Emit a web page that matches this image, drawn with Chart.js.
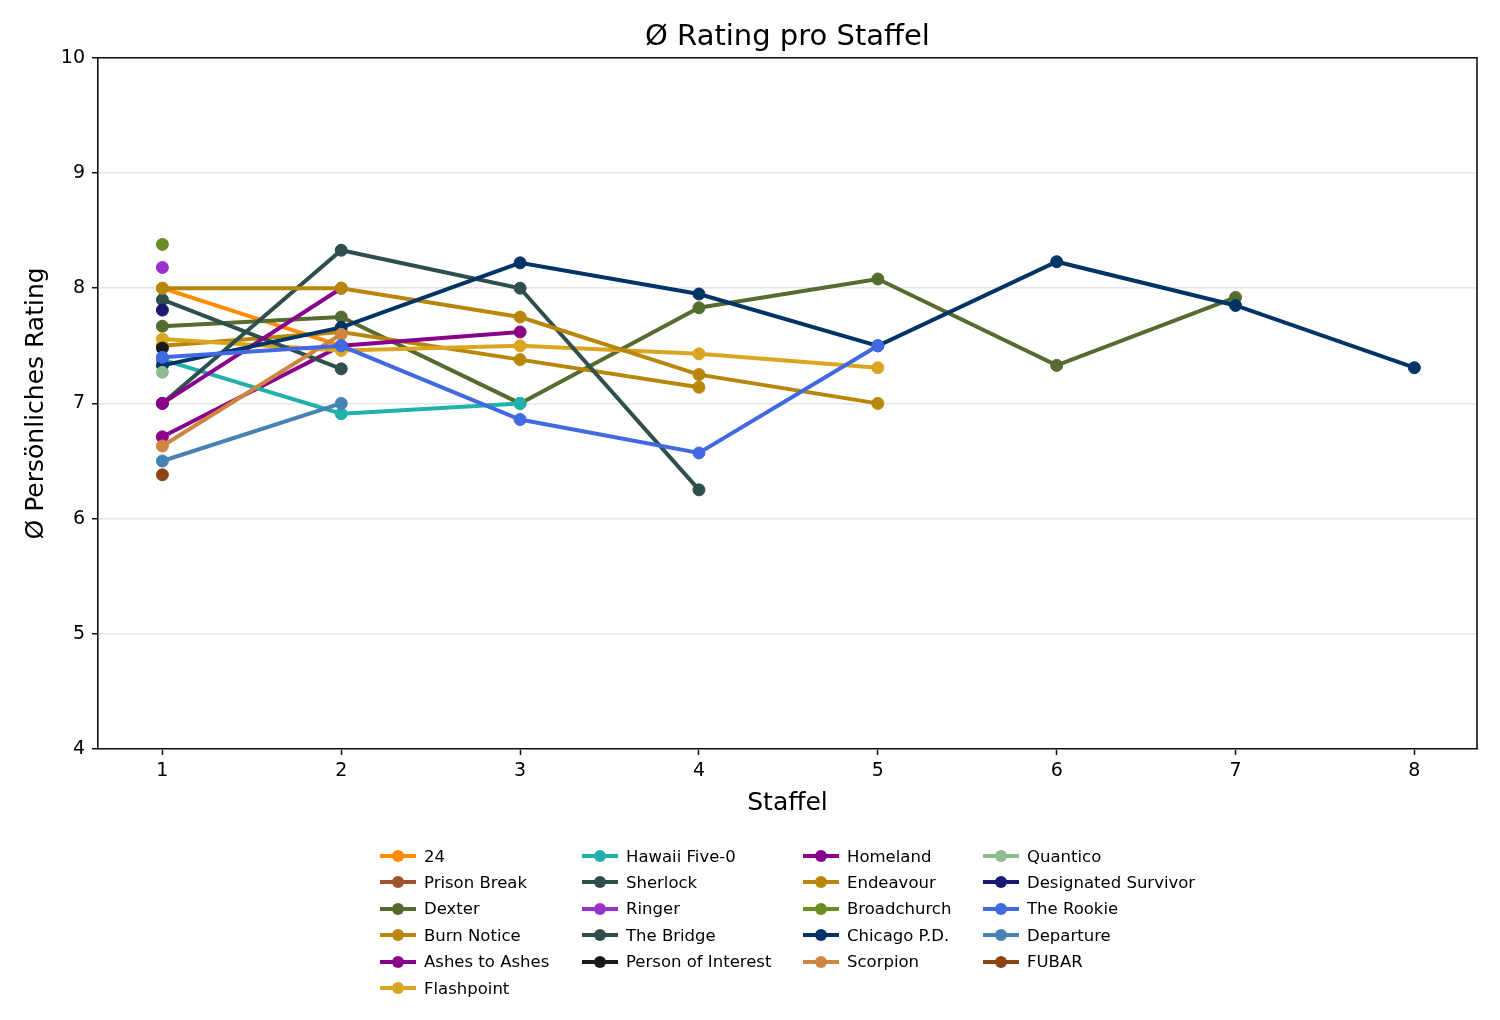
<!DOCTYPE html>
<html>
<head>
<meta charset="utf-8">
<script src="https://cdn.jsdelivr.net/npm/chart.js@4.4.1/dist/chart.umd.min.js"></script>
<style>
  body { margin: 0; background: #fff; }
  #wrap { position: relative; width: 1500px; height: 1020px; }
  #chart { position: absolute; left: 0; top: 0; }
  #legend {
    position: absolute; left: 0; top: 0; width: 1500px; height: 1020px;
    font-family: "DejaVu Sans", sans-serif; font-size: 16.5px; color: #000;
  }
  .item { position: absolute; display: flex; align-items: center; white-space: nowrap; height: 20px; }
  .handle { position: relative; flex: 0 0 36px; width: 36px; height: 14px; margin-right: 8px; }
  .handle .ln { position: absolute; left: 0; right: 0; top: 5px; height: 4px; }
  .handle .dot { position: absolute; left: 12px; top: 1px; width: 12px; height: 12px; border-radius: 50%; }
</style>
</head>
<body>
<div id="wrap">
  <canvas id="chart" width="1500" height="1020"></canvas>
  <div id="legend"></div>
</div>
<script>
// Staffeln
const staffeln = [1, 2, 3, 4, 5, 6, 7, 8];

// Serien (Ø Rating je Staffel)
const serien = ["24", "Prison Break", "Dexter", "Burn Notice", "Ashes to Ashes", "Flashpoint",
  "Hawaii Five-0", "Sherlock", "Ringer", "The Bridge", "Person of Interest",
  "Homeland", "Endeavour", "Broadchurch", "Chicago P.D.", "Scorpion",
  "Quantico", "Designated Survivor", "The Rookie", "Departure", "FUBAR"];

const r24 = [8.0, 7.5];
const rPrisonBreak = [];
const rDexter = [7.67, 7.75, 7.0, 7.83, 8.08, 7.33, 7.92];
const rBurnNotice = [7.5, 7.62, 7.38, 7.14];
const rAshes = [6.71, 7.5, 7.62];
const rFlashpoint = [7.56, 7.46, 7.5, 7.43, 7.31];
const rHawaii = [7.38, 6.91, 7.0];
const rSherlock = [7.0, 8.33, 8.0, 6.25];
const rRinger = [8.18];
const rBridge = [7.9, 7.3];
const rPOI = [7.48];
const rHomeland = [7.0, 8.0];
const rEndeavour = [8.0, 8.0, 7.75, 7.25, 7.0];
const rBroadchurch = [8.38];
const rChicago = [7.33, 7.66, 8.22, 7.95, 7.5, 8.23, 7.85, 7.31];
const rScorpion = [6.63, 7.6];
const rQuantico = [7.27];
const rDesignated = [7.81];
const rRookie = [7.4, 7.5, 6.86, 6.57, 7.5];
const rDeparture = [6.5, 7.0];
const rFubar = [6.38];

const werte = [r24, rPrisonBreak, rDexter, rBurnNotice, rAshes, rFlashpoint, rHawaii,
  rSherlock, rRinger, rBridge, rPOI, rHomeland, rEndeavour, rBroadchurch, rChicago,
  rScorpion, rQuantico, rDesignated, rRookie, rDeparture, rFubar];

const farben = ["#FF8C00", "#A0522D", "#556B2F", "#B8860B", "#8B008B", "#DAA520",
  "#20B2AA", "#2F4F4F", "#9932CC", "#2F4F4F", "#1A1A1A",
  "#8B008B", "#B8860B", "#6B8E23", "#003366", "#CD853F",
  "#8FBC8F", "#191970", "#4169E1", "#4682B4", "#8B4513"];

const yTicks = [4, 5, 6, 7, 8, 9, 10];

const datasets = serien.map((name, i) => ({
  label: name,
  data: werte[i].map((v, k) => ({ x: staffeln[k], y: v })),
  borderColor: farben[i],
  backgroundColor: farben[i],
  pointBackgroundColor: farben[i],
  pointBorderColor: farben[i],
  borderWidth: 4,
  pointRadius: 6,
  pointBorderWidth: 1,
  tension: 0,
  order: serien.length - i,
}));

// Rahmen oben/rechts wie bei matplotlib
const rahmen = {
  id: "rahmen",
  afterDraw(chart) {
    const { ctx, chartArea: a } = chart;
    ctx.save();
    ctx.strokeStyle = "#111";
    ctx.lineWidth = 1.6;
    ctx.beginPath();
    ctx.moveTo(a.left, a.top);
    ctx.lineTo(a.right, a.top);
    ctx.lineTo(a.right, a.bottom);
    ctx.stroke();
    ctx.restore();
  },
};

const font = "'DejaVu Sans', sans-serif";

new Chart(document.getElementById("chart"), {
  type: "line",
  data: { datasets },
  plugins: [rahmen],
  options: {
    responsive: false,
    animation: false,
    devicePixelRatio: 1,
    layout: { padding: { left: 0, right: 23, top: 0, bottom: 191 } },
    plugins: {
      legend: { display: false },
      tooltip: { enabled: false },
      title: {
        display: true,
        text: "Ø Rating pro Staffel",
        fullSize: false,
        color: "#000",
        font: { family: font, size: 29, weight: "normal" },
        padding: { top: 20, bottom: 3 },
      },
    },
    scales: {
      x: {
        type: "linear",
        min: 0.64,
        max: 8.35,
        afterFit: (s) => { s.height = 80; },
        afterBuildTicks: (s) => { s.ticks = staffeln.map((v) => ({ value: v })); },
        grid: { drawOnChartArea: false, tickLength: 6, tickColor: "#111", tickWidth: 1.5 },
        border: { color: "#111", width: 1.6 },
        ticks: { color: "#000", font: { family: font, size: 19 }, padding: 5 },
        title: {
          display: true,
          text: "Staffel",
          color: "#000",
          font: { family: font, size: 25 },
          padding: { top: 0, bottom: 11 },
        },
      },
      y: {
        min: 4,
        max: 10,
        afterFit: (s) => { s.width = 98; },
        afterBuildTicks: (s) => { s.ticks = yTicks.map((v) => ({ value: v })); },
        grid: { color: "#e6e6e6", lineWidth: 1.5, tickLength: 6, tickColor: "#111", tickWidth: 1.5 },
        border: { color: "#111", width: 1.6 },
        ticks: { color: "#000", font: { family: font, size: 19 }, padding: 7 },
        title: {
          display: true,
          text: "Ø Persönliches Rating",
          color: "#000",
          font: { family: font, size: 25 },
          padding: { top: 21, bottom: 0 },
        },
      },
    },
  },
});

// Legende: 4 Spalten, spaltenweise gefüllt (6/5/5/5 wie matplotlib ncol=4)
const spaltenX = [380, 582, 803, 983];
const zeileY0 = 846, zeileDy = 26.4;
const proSpalte = [6, 5, 5, 5];
const legend = document.getElementById("legend");
let idx = 0;
const html = [];
proSpalte.forEach((n, c) => {
  for (let r = 0; r < n && idx < serien.length; r++, idx++) {
    html.push(`
    <div class="item" style="left:${spaltenX[c]}px;top:${zeileY0 + r * zeileDy}px">
      <span class="handle"><span class="ln" style="background:${farben[idx]}"></span><span class="dot" style="background:${farben[idx]}"></span></span>
      <span>${serien[idx]}</span>
    </div>`);
  }
});
legend.innerHTML = html.join("");
</script>
</body>
</html>
